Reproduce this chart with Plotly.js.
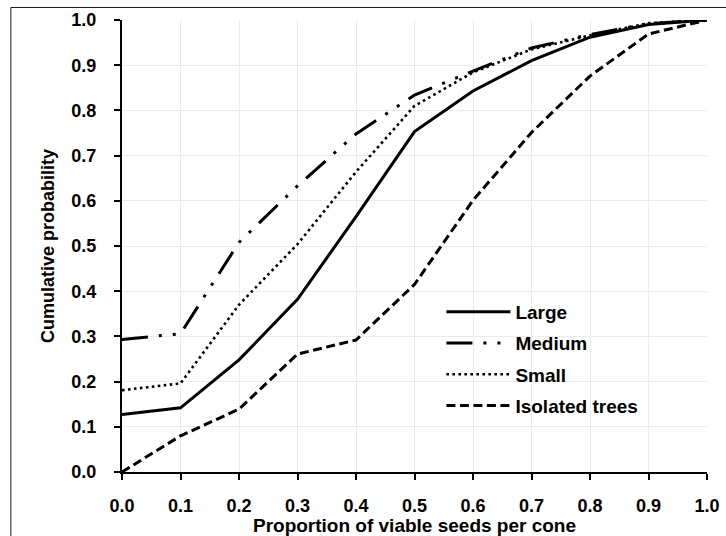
<!DOCTYPE html>
<html>
<head>
<meta charset="utf-8">
<script src="https://cdn.plot.ly/plotly-3.0.1.min.js"></script>
<style>
  html, body { margin: 0; padding: 0; background: #fff; overflow: hidden; }
  #chart { width: 726px; height: 536px; }
</style>
</head>
<body>
<div id="chart"></div>
<script>
// Proportion of viable seeds per cone (x) and cumulative probability per stand type
const proportion = [0.0, 0.1, 0.2, 0.3, 0.4, 0.5, 0.6, 0.7, 0.8, 0.9, 1.0];
const large    = [0.127, 0.142, 0.248, 0.382, 0.565, 0.753, 0.843, 0.910, 0.962, 0.990, 1.0];
const medium   = [0.293, 0.306, 0.508, 0.633, 0.748, 0.834, 0.887, 0.938, 0.968, 0.992, 1.0];
const small    = [0.181, 0.196, 0.370, 0.504, 0.664, 0.810, 0.884, 0.935, 0.966, 0.993, 1.0];
const isolated = [0.000, 0.080, 0.139, 0.261, 0.292, 0.415, 0.601, 0.751, 0.876, 0.969, 1.0];

const seriesNames = ['Large', 'Medium', 'Small', 'Isolated trees'];
const tickValues = [0.0, 0.1, 0.2, 0.3, 0.4, 0.5, 0.6, 0.7, 0.8, 0.9, 1.0];

const FAMILY = 'Liberation Sans, Arial, sans-serif';
const tickFont   = { family: FAMILY, size: 18, color: '#000', weight: 700 };
const xTitleFont = { family: FAMILY, size: 19, color: '#000', weight: 700 };
const yTitleFont = { family: FAMILY, size: 18, color: '#000', weight: 700 };
const legendFont = { family: FAMILY, size: 19, color: '#000', weight: 700 };

function line(y, name, width, dash) {
  return {
    x: proportion, y: y, name: name, type: 'scatter', mode: 'lines',
    legendgroup: name,
    line: { color: '#000', width: width, dash: dash },
    hoverinfo: 'x+y+name'
  };
}

const traces = [
  line(large, seriesNames[0], 3, 'solid'),
  line(medium, seriesNames[1], 3, '26px,11px,3px,11px,3px,11px'),
  line(small, seriesNames[2], 2.6, '2.6px,3.4px'),
  line(isolated, seriesNames[3], 3, '9px,4.5px')
];

const axisCommon = {
  range: [0, 1],
  tickvals: tickValues,
  tickformat: '.1f',
  showgrid: true,
  gridcolor: '#ebebeb',
  gridwidth: 1,
  showline: true,
  linecolor: '#000',
  linewidth: 2,
  ticks: 'outside',
  ticklen: 6,
  tickwidth: 2,
  tickcolor: '#000',
  zeroline: false,
  tickfont: tickFont,
  fixedrange: true
};

const layout = {
  width: 726,
  height: 536,
  margin: { l: 122, r: 19, t: 20, b: 64 },
  paper_bgcolor: '#fff',
  plot_bgcolor: '#fff',
  font: tickFont,
  showlegend: true,
  xaxis: Object.assign({}, axisCommon, {
    ticklabelstandoff: 10,
    title: { text: 'Proportion of viable seeds per cone', font: xTitleFont, standoff: 5 }
  }),
  yaxis: Object.assign({}, axisCommon, {
    ticklabelstandoff: 14,
    title: { text: 'Cumulative probability', font: yTitleFont, standoff: 12 }
  }),
  legend: {
    x: 0.546, y: 0.396, xanchor: 'left', yanchor: 'top',
    bgcolor: 'rgba(0,0,0,0)',
    font: legendFont,
    itemwidth: 64,
    tracegroupgap: 3.5,
    traceorder: 'grouped'
  },
  shapes: [{
    // outer frame around the figure
    type: 'rect', xref: 'paper', yref: 'paper',
    x0: -0.190, x1: 1.2, y0: -0.4, y1: 1.0277,
    line: { color: '#1a1a1a', width: 1 },
    fillcolor: 'rgba(0,0,0,0)',
    layer: 'above'
  }]
};

Plotly.newPlot('chart', traces, layout, { displayModeBar: false, staticPlot: true });
</script>
</body>
</html>
